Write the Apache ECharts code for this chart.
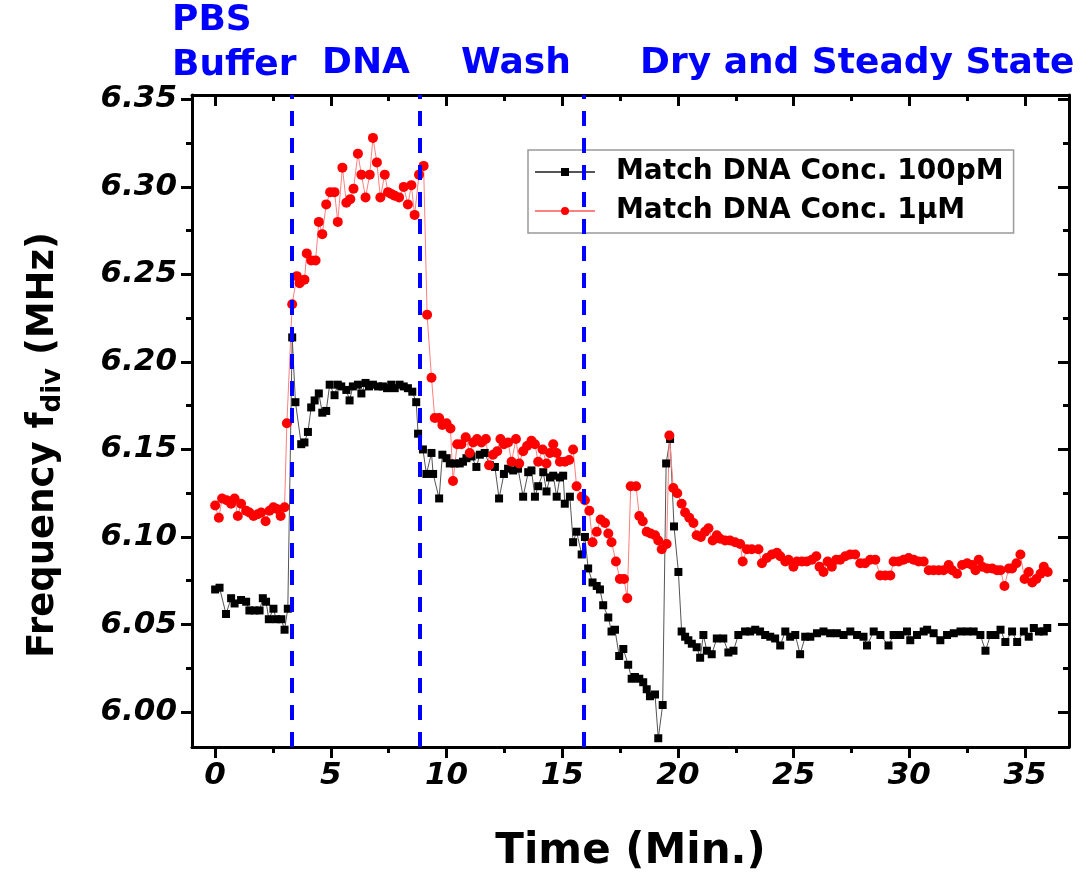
<!DOCTYPE html>
<html>
<head>
<meta charset="utf-8">
<title>Frequency vs Time</title>
<script src="https://cdn.jsdelivr.net/npm/echarts@6/dist/echarts.min.js"></script>
<style>
  html, body { margin: 0; padding: 0; background: #fff; }
  #chart { width: 1086px; height: 879px; }
</style>
</head>
<body>
<div id="chart"></div>
<script>
// Match DNA Conc. 100pM (black squares)
var timeA = [0.00,0.19,0.47,0.69,0.84,1.12,1.34,1.48,1.70,1.92,
	2.06,2.20,2.32,2.52,2.64,2.86,3.00,3.14,3.33,3.47,
	3.72,3.86,4.01,4.15,4.30,4.48,4.63,4.80,4.95,5.16,
	5.30,5.45,5.67,5.81,5.95,6.17,6.32,6.50,6.65,6.82,
	7.04,7.25,7.43,7.61,7.76,7.97,8.15,8.33,8.52,8.69,
	8.77,8.98,9.13,9.35,9.42,9.68,9.82,10.00,10.14,10.36,
	10.57,10.71,10.86,11.08,11.29,11.44,11.65,11.87,12.09,12.27,
	12.48,12.66,12.88,13.09,13.31,13.53,13.67,13.82,13.96,14.18,
	14.32,14.47,14.61,14.76,14.90,15.04,15.11,15.33,15.47,15.62,
	15.84,15.98,16.12,16.31,16.49,16.63,16.77,16.99,17.13,17.28,
	17.46,17.64,17.85,18.00,18.14,18.33,18.50,18.65,18.79,19.01,
	19.15,19.34,19.49,19.66,19.83,20.02,20.16,20.31,20.45,20.60,
	20.81,20.96,
	21.10,21.25,21.46,21.68,21.96,22.18,22.40,22.61,22.90,23.12,
	23.34,23.55,23.77,23.99,24.20,24.42,24.64,24.85,25.07,25.28,
	25.50,25.72,26.01,26.29,26.58,26.87,27.16,27.45,27.74,28.02,
	28.17,28.46,28.75,29.10,29.32,29.61,29.90,30.04,30.33,30.62,
	30.77,31.05,31.34,31.63,31.92,32.21,32.50,32.78,33.07,33.29,
	33.51,33.72,33.94,34.15,34.44,34.66,34.95,35.16,35.38,35.60,
	35.81,35.96];
var freqA = [6.070,6.071,6.056,6.065,6.062,6.064,6.063,6.058,6.058,6.058,
	6.065,6.063,6.053,6.059,6.053,6.053,6.047,6.059,6.214,6.177,
	6.153,6.154,6.160,6.174,6.178,6.182,6.171,6.172,6.187,6.181,
	6.187,6.186,6.184,6.178,6.186,6.187,6.182,6.188,6.186,6.187,
	6.186,6.186,6.185,6.187,6.185,6.187,6.186,6.185,6.183,6.177,
	6.159,6.150,6.136,6.148,6.136,6.122,6.147,6.145,6.142,6.142,
	6.142,6.143,6.145,6.146,6.140,6.147,6.148,6.141,6.140,6.122,
	6.136,6.139,6.138,6.139,6.123,6.137,6.138,6.123,6.129,6.137,
	6.126,6.134,6.135,6.123,6.134,6.135,6.119,6.123,6.097,6.103,
	6.090,6.100,6.082,6.074,6.072,6.070,6.061,6.054,6.046,6.047,
	6.032,6.036,6.027,6.019,6.020,6.019,6.017,6.013,6.009,6.010,
	5.985,6.004,6.142,6.156,6.106,6.080,6.046,6.043,6.041,6.039,
	6.037,6.031,
	6.044,6.035,6.033,6.042,6.042,6.034,6.035,6.044,6.046,6.046,
	6.047,6.046,6.044,6.043,6.042,6.038,6.046,6.043,6.044,6.033,
	6.043,6.043,6.045,6.046,6.045,6.045,6.044,6.046,6.044,6.043,
	6.038,6.046,6.044,6.038,6.044,6.044,6.046,6.041,6.044,6.046,
	6.047,6.045,6.041,6.044,6.045,6.046,6.046,6.046,6.044,6.035,
	6.044,6.044,6.047,6.040,6.046,6.040,6.046,6.043,6.048,6.046,
	6.046,6.048];

// Match DNA Conc. 1uM (red circles)
var timeB = [0.00,0.16,0.30,0.50,0.69,0.84,0.98,1.12,1.34,1.48,
	1.66,1.84,1.99,2.18,2.35,2.52,2.67,2.83,3.00,3.10,
	3.33,3.53,3.65,3.86,3.96,4.15,4.34,4.48,4.63,4.80,
	4.97,5.16,5.30,5.50,5.67,5.84,5.98,6.17,6.32,6.50,
	6.68,6.82,6.99,7.14,7.33,7.47,7.61,7.76,7.95,8.15,
	8.33,8.48,8.62,8.81,9.01,9.16,9.35,9.49,9.68,9.82,
	10.00,10.17,10.28,10.46,10.64,10.83,11.00,11.15,11.32,11.51,
	11.70,11.84,12.01,12.19,12.33,12.48,12.66,12.81,13.00,13.14,
	13.31,13.48,13.67,13.82,13.96,14.15,14.32,14.47,14.61,14.76,
	14.90,15.11,15.30,15.47,15.62,15.84,15.98,16.17,16.31,16.49,
	16.66,16.85,16.99,17.13,17.32,17.49,17.67,17.81,17.96,18.19,
	18.33,18.48,18.65,18.82,19.01,19.15,19.30,19.51,19.63,19.80,
	19.97,20.16,20.31,20.49,20.67,20.81,20.99,21.17,21.32,21.50,
	21.68,21.82,22.04,22.25,22.47,22.69,22.80,22.98,23.19,23.48,
	23.63,23.84,24.06,24.28,24.42,24.64,24.78,24.99,25.14,25.36,
	25.57,25.79,25.98,26.12,26.29,26.47,26.65,26.84,27.01,27.23,
	27.44,27.66,27.88,28.09,28.31,28.53,28.74,28.96,29.18,29.32,
	29.54,29.75,29.97,30.19,30.40,30.62,30.84,31.05,31.27,31.48,
	31.70,31.85,32.06,32.28,32.50,32.71,32.86,33.00,33.15,33.36,
	33.58,33.79,33.94,34.11,34.30,34.44,34.63,34.80,34.98,35.16,
	35.31,35.49,35.67,35.81,35.98];
var freqB = [6.118,6.111,6.122,6.121,6.119,6.122,6.112,6.119,6.115,6.114,
	6.112,6.113,6.114,6.109,6.115,6.117,6.116,6.112,6.117,6.165,
	6.233,6.249,6.245,6.247,6.262,6.258,6.258,6.280,6.273,6.290,
	6.297,6.297,6.280,6.311,6.291,6.293,6.299,6.319,6.307,6.294,
	6.307,6.328,6.314,6.294,6.307,6.297,6.296,6.295,6.294,6.300,
	6.290,6.301,6.284,6.307,6.312,6.227,6.191,6.168,6.168,6.164,
	6.165,6.162,6.132,6.153,6.153,6.157,6.148,6.154,6.156,6.154,
	6.156,6.141,6.147,6.149,6.156,6.153,6.154,6.143,6.156,6.142,
	6.149,6.152,6.155,6.153,6.143,6.150,6.142,6.148,6.153,6.148,
	6.143,6.143,6.144,6.150,6.129,6.123,6.121,6.115,6.097,6.103,
	6.110,6.108,6.102,6.097,6.086,6.076,6.076,6.065,6.129,6.129,
	6.112,6.109,6.103,6.102,6.101,6.098,6.093,6.096,6.158,6.128,
	6.125,6.119,6.114,6.111,6.108,6.101,6.100,6.103,6.105,6.098,
	6.101,6.099,6.098,6.098,6.097,6.096,6.086,6.093,6.093,6.093,
	6.085,6.088,6.090,6.091,6.089,6.086,6.087,6.083,6.086,6.086,
	6.086,6.087,6.089,6.083,6.080,6.086,6.083,6.087,6.087,6.089,
	6.090,6.090,6.085,6.085,6.087,6.087,6.078,6.078,6.078,6.086,
	6.086,6.087,6.088,6.087,6.086,6.086,6.081,6.081,6.081,6.081,
	6.084,6.081,6.079,6.084,6.085,6.084,6.081,6.087,6.083,6.082,
	6.082,6.081,6.081,6.072,6.082,6.082,6.085,6.090,6.076,6.080,
	6.074,6.076,6.079,6.083,6.080];

var seriesNames = ['Match DNA Conc. 100pM', 'Match DNA Conc. 1\u03bcM'];

// axis ticks
var xMajorTicks = [0, 5, 10, 15, 20, 25, 30, 35];
var xMinorTicks = [2.5, 7.5, 12.5, 17.5, 22.5, 27.5, 32.5];
var yMajorTicks = [6.00, 6.05, 6.10, 6.15, 6.20, 6.25, 6.30, 6.35];
var yMinorTicks = [6.025, 6.075, 6.125, 6.175, 6.225, 6.275, 6.325];

// phase boundaries (min) and phase names
var phaseBounds = [3.3, 8.86, 15.94];
var phaseNames = ['PBS', 'Buffer', 'DNA', 'Wash', 'Dry and Steady State'];

var FONT = 'DejaVu Sans';
var X_MIN = -1, X_MAX = 36.9;
var Y_MIN = 5.98, Y_MAX = 6.3525;

function pairs(t, f){
	var out = [];
	for (var i = 0; i < Math.min(t.length, f.length); i++) out.push([t[i], f[i]]);
	return out;
}

// one axis = either major ticks (long) or minor ticks (short)
function makeAxis(dim, position, ticks, len, inside, showLine, showLabel){
	var ax = {
		type: 'value',
		position: position,
		min: dim == 'x' ? X_MIN : Y_MIN,
		max: dim == 'x' ? X_MAX : Y_MAX,
		splitLine: { show: false },
		axisLine: { show: showLine, onZero: false, lineStyle: { color: '#000', width: 3 } },
		axisTick: { show: true, inside: inside, length: len, customValues: ticks,
			lineStyle: { color: '#000', width: 3 } },
		axisLabel: { show: false }
	};
	if (showLabel) {
		ax.axisLabel = {
			show: true,
			customValues: ticks,
			margin: dim == 'x' ? 13 : 15,
			color: '#000',
			fontFamily: FONT,
			fontSize: 31,
			fontWeight: 'bold',
			fontStyle: 'italic',
			formatter: function(v){ return dim == 'x' ? String(v) : v.toFixed(2); }
		};
	}
	return ax;
}

var xAxes = [
	makeAxis('x', 'bottom', xMajorTicks, 11, false, true, true),
	makeAxis('x', 'bottom', xMinorTicks, 6, false, false, false),
	makeAxis('x', 'top', xMajorTicks, 11, true, true, false),
	makeAxis('x', 'top', xMinorTicks, 6, true, false, false)
];
xAxes[0].name = 'Time (Min.)';
xAxes[0].nameLocation = 'middle';
xAxes[0].nameGap = 84;
xAxes[0].nameTextStyle = { fontFamily: FONT, fontSize: 42, fontWeight: 'bold', color: '#000' };

var yAxes = [
	makeAxis('y', 'left', yMajorTicks, 11, false, true, true),
	makeAxis('y', 'left', yMinorTicks, 6, false, false, false),
	makeAxis('y', 'right', yMajorTicks, 11, true, true, false),
	makeAxis('y', 'right', yMinorTicks, 6, true, false, false)
];
yAxes[0].name = 'Frequency f{sub|div} (MHz)';
yAxes[0].nameLocation = 'middle';
yAxes[0].nameGap = 126;
yAxes[0].nameRotate = 90;
yAxes[0].nameTextStyle = {
	fontFamily: FONT, fontSize: 37, fontWeight: 'bold', color: '#000',
	padding: [0, 48, 0, 0],
	rich: { sub: { fontFamily: FONT, fontSize: 26, fontWeight: 'bold', color: '#000', padding: [20, 0, 0, 0] } }
};

function phaseText(txt, x, y){
	return { type: 'text', left: x, top: y, silent: true,
		style: { text: txt, fill: '#0000ff', font: 'bold 36px "' + FONT + '"' } };
}

var option = {
	animation: false,
	backgroundColor: '#fff',
	grid: { left: 192, right: 17, top: 95, bottom: 132, containLabel: false },
	xAxis: xAxes,
	yAxis: yAxes,
	legend: {
		orient: 'vertical',
		left: 528, top: 150,
		itemWidth: 60, itemHeight: 10, itemGap: 11,
		padding: [8, 10, 8, 6],
		borderColor: '#999', borderWidth: 1.5,
		textStyle: { fontFamily: FONT, fontSize: 28, fontWeight: 'bold', color: '#000', padding: [0, 0, 0, 16] },
		data: seriesNames
	},
	graphic: [
		phaseText(phaseNames[0], 172, 3),
		phaseText(phaseNames[1], 172, 48),
		phaseText(phaseNames[2], 322, 46),
		phaseText(phaseNames[3], 461, 46),
		phaseText(phaseNames[4], 640, 46)
	],
	series: [
		{
			name: seriesNames[0], type: 'line',
			data: pairs(timeA, freqA),
			symbol: 'rect', symbolSize: 8,
			itemStyle: { color: '#000' },
			lineStyle: { color: '#555', width: 1 },
			markLine: {
				symbol: 'none', silent: true,
				label: { show: false },
				lineStyle: { color: '#0000ff', width: 4, type: [15, 12], opacity: 1 },
				data: phaseBounds.map(function(v){ return { xAxis: v }; })
			}
		},
		{
			name: seriesNames[1], type: 'line',
			data: pairs(timeB, freqB),
			symbol: 'circle', symbolSize: 10,
			itemStyle: { color: '#ff0000' },
			lineStyle: { color: '#ff8080', width: 1 }
		}
	]
};

var myChart = echarts.init(document.getElementById('chart'));
myChart.setOption(option);
</script>
</body>
</html>
